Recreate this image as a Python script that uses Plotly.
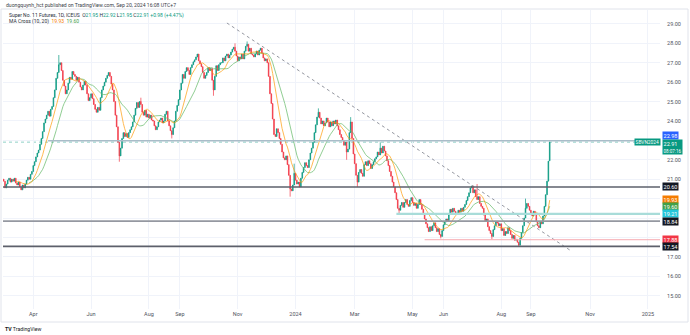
import pandas as pd
import plotly.graph_objects as go

# ---------------- data (daily closes, Super No. 11 Futures, 1D) ----------------
closes = [
    20.90, 20.55,
    20.75, 20.95, 21.05, 20.85, 21.00,
    20.90, 21.05, 20.80, 20.70, 20.85,
    20.60, 20.45, 20.70, 20.55, 20.75,
    20.95, 21.10, 21.00, 21.25, 21.40,
    21.70, 21.90, 22.15, 22.35, 22.50,
    22.80, 23.10, 23.45, 23.90, 24.10,
    24.30, 24.50, 24.25, 24.60, 24.75,
    25.20, 25.60, 26.20, 26.50, 26.90,
    27.00, 26.60, 26.10, 25.80, 25.40,
    25.60, 25.95, 26.25, 26.15, 26.55,
    26.40, 26.30, 26.10, 26.25, 26.00,
    25.75, 25.60, 25.85, 26.05, 25.85,
    25.40, 25.05, 25.20, 25.40, 25.15,
    24.85, 24.60, 24.45, 24.70, 24.55,
    25.20, 25.60, 25.80, 26.00, 26.20,
    26.35, 26.50, 26.30, 25.90, 25.60,
    25.00, 24.30, 23.70, 22.90, 22.20,
    22.60, 23.10, 23.40, 23.20, 23.35,
    23.15, 23.40, 23.55, 23.70, 23.95,
    24.30, 24.65, 24.95, 24.70, 25.00,
    24.85, 24.45, 24.30, 24.55, 24.20,
    24.35, 24.15, 24.30, 24.05, 24.00,
    23.75, 23.55, 23.70, 23.95, 24.05,
    24.15, 23.90, 24.00, 24.35, 24.50,
    24.00, 23.75, 23.50, 23.30, 23.65,
    24.00, 24.50, 24.80, 25.10, 25.60,
    25.95, 26.40, 26.20, 26.55, 26.75,
    26.60, 26.40, 26.75, 26.90, 27.05,
    27.15, 27.30, 27.45, 27.10, 26.95,
    26.80, 26.50, 26.20, 26.35, 26.50,
    26.75, 26.60, 26.70, 26.10, 25.60,
    26.30, 26.85, 26.60, 26.90, 27.00,
    27.00, 27.25, 27.10, 27.35, 27.45,
    27.25, 27.40, 27.55, 27.70, 27.80,
    27.60, 27.35, 27.10, 27.30, 27.20,
    27.45, 27.20, 27.60, 27.85, 27.95,
    27.60, 27.75, 27.45, 27.40, 27.30,
    27.45, 27.60, 27.40, 27.65, 27.75,
    27.50, 27.25, 27.10, 27.20, 27.00,
    26.30, 25.40, 24.90, 24.10, 23.30,
    23.20, 23.60, 23.40, 23.10, 22.80,
    22.40, 22.10, 22.00, 22.20, 21.75,
    21.20, 20.50, 20.40, 20.70, 21.30,
    20.95, 20.75, 20.85, 20.60, 21.05,
    21.35, 21.60, 21.85, 21.70, 21.60,
    22.00, 22.35, 22.60, 22.90, 23.40,
    23.80, 24.20, 24.45, 24.15, 23.85,
    24.00, 23.75, 23.90, 24.15, 23.95,
    23.70, 23.95, 23.75, 24.00, 23.85,
    24.05, 23.75, 23.55, 23.30, 23.15,
    23.00, 22.75, 22.90, 22.40, 22.55,
    23.40, 23.95, 23.10, 22.30, 21.80,
    21.20, 20.85, 21.35, 21.50, 21.30,
    21.15, 21.75, 21.90, 21.70, 21.95,
    21.80, 21.55, 21.75, 21.90, 22.05,
    22.15, 22.40, 22.25, 22.60, 22.35,
    22.70, 22.45, 22.20, 21.95, 21.70,
    21.40, 21.15, 20.85, 20.60, 20.30,
    19.95, 19.50, 19.40, 19.65, 19.80,
    19.55, 19.80, 19.95, 19.70, 19.60,
    19.90, 20.05, 19.80, 19.65, 19.75,
    19.50, 19.70, 19.95, 19.70, 19.45,
    19.20, 18.95, 18.70, 18.50, 18.30,
    18.55, 18.35, 18.60, 18.75, 18.50,
    18.30, 18.45, 18.15, 18.05, 18.35,
    18.65, 18.80, 18.95, 18.85, 19.20,
    19.45, 19.30, 19.50, 19.35, 19.20,
    19.25, 19.40, 19.30, 19.50, 19.35,
    19.55, 19.70, 19.90, 20.10, 20.30,
    20.55, 20.65, 20.30, 20.45, 20.10,
    19.95, 20.10, 19.75, 19.60, 19.50,
    19.15, 18.85, 18.95, 18.55, 18.35,
    18.20, 18.05, 18.40, 18.60, 18.80,
    18.75, 18.60, 18.70, 18.35, 18.45,
    18.10, 18.30, 18.20, 18.50, 18.35,
    18.15, 17.95, 18.10, 17.85, 17.90,
    17.75, 17.60, 17.95, 18.25, 18.60,
    19.00, 19.50, 19.75, 19.60, 19.40,
    19.25, 19.10, 19.35, 19.20, 18.80,
    18.60, 18.50, 18.80, 18.70, 19.10,
    19.60, 20.20, 20.90, 21.93, 22.91,
]
first_open = 21.00
last_open = 21.95
last_date = "2024-09-20"

wick_highs = {
    "2023-04-28": 27.40, "2023-07-24": 25.20, "2023-10-30": 28.00,
    "2023-11-10": 28.10, "2023-12-29": 21.80, "2024-01-24": 24.65,
    "2024-02-27": 24.20, "2024-03-28": 22.90, "2024-07-08": 20.75,
    "2024-08-27": 20.00, "2024-09-20": 22.92,
}
wick_lows = {
    "2023-06-30": 21.90, "2023-08-24": 23.10, "2023-10-06": 25.30,
    "2023-12-26": 20.10, "2024-02-22": 22.00, "2024-03-05": 20.60,
    "2024-04-17": 19.25, "2024-05-30": 17.95, "2024-07-23": 17.90,
    "2024-08-20": 17.54, "2024-09-20": 21.95,
}

# drawn levels
full_levels = [20.60, 18.84, 17.54]
full_level_colors = ["#5d606b", "#9598a1", "#5d606b"]
ray_levels = [22.98, 19.21, 17.88]
ray_starts = ["2023-04-18", "2024-04-15", "2024-05-14"]
ray_colors = ["#a9bcc8", "#a8dcd9", "#f7a9b0"]
ray_widths = [1.6, 2.2, 1.0]
trend_dates = ["2023-10-20", "2024-10-14"]
trend_prices = [29.05, 17.30]
last_price = 22.91

# price-axis labels (text, value, background)
axis_labels = [
    ("20.60", 20.60, "#131722"), ("19.93", 19.93, "#f57c00"),
    ("19.60", 19.60, "#43a047"), ("19.21", 19.21, "#26c6da"),
    ("18.84", 18.84, "#131722"), ("17.88", 17.88, "#f23645"),
    ("17.54", 17.54, "#131722"),
]

y_ticks = list(range(15, 30))
hidden_ticks = [18, 19, 20, 23]
x_tickvals = ["2023-04-03", "2023-06-01", "2023-08-01", "2023-09-01", "2023-11-01",
              "2024-01-01", "2024-03-01", "2024-05-01", "2024-06-03", "2024-08-01",
              "2024-09-02", "2024-11-01", "2025-01-01"]
x_ticktext = ["Apr", "Jun", "Aug", "Sep", "Nov", "2024", "Mar", "May", "Jun", "Aug",
              "Sep", "Nov", "2025"]

# ---------------- build ----------------
dates = pd.bdate_range(end=last_date, periods=len(closes))
opens = [first_open] + closes[:-1]
opens[-1] = last_open
highs = [max(o, c) for o, c in zip(opens, closes)]
lows = [min(o, c) for o, c in zip(opens, closes)]
for d, v in wick_highs.items():
    i = dates.get_loc(pd.Timestamp(d))
    highs[i] = max(highs[i], v)
for d, v in wick_lows.items():
    i = dates.get_loc(pd.Timestamp(d))
    lows[i] = min(lows[i], v)

s = pd.Series(closes)
ma10 = s.rolling(10).mean()
ma20 = s.rolling(20).mean()

UP, DOWN = "#089981", "#f23645"
FONT = "Roboto"

fig = go.Figure()
fig.add_trace(go.Candlestick(
    x=dates, open=opens, high=highs, low=lows, close=closes,
    increasing=dict(line=dict(color=UP, width=0.7), fillcolor=UP),
    decreasing=dict(line=dict(color=DOWN, width=0.7), fillcolor=DOWN),
    whiskerwidth=0, showlegend=False, hoverinfo="skip"))
fig.add_trace(go.Scatter(x=dates, y=ma20, mode="lines",
                         line=dict(color="#66bb6a", width=0.9), opacity=0.8,
                         showlegend=False, hoverinfo="skip"))
fig.add_trace(go.Scatter(x=dates, y=ma10, mode="lines",
                         line=dict(color="#ff9800", width=0.9), opacity=0.75,
                         showlegend=False, hoverinfo="skip"))
fig.add_trace(go.Scatter(x=trend_dates, y=trend_prices, mode="lines",
                         line=dict(color="#9598a1", width=1, dash="dot"),
                         showlegend=False, hoverinfo="skip"))

X_END = "2025-01-14"
shapes = []
for p, c in zip(full_levels, full_level_colors):
    shapes.append(dict(type="line", xref="paper", x0=0, x1=1, yref="y", y0=p, y1=p,
                       line=dict(color=c, width=1.6), layer="above"))
for p, st, c, w in zip(ray_levels, ray_starts, ray_colors, ray_widths):
    shapes.append(dict(type="line", xref="x", x0=st, x1=X_END, yref="y", y0=p, y1=p,
                       line=dict(color=c, width=w), layer="above"))
shapes.append(dict(type="line", xref="paper", x0=0, x1=1, yref="y", y0=last_price,
                   y1=last_price, line=dict(color="#8fd0c6", width=1, dash="dot"),
                   layer="below"))
# outer frame
shapes.append(dict(type="rect", xref="paper", yref="paper",
                   x0=-2 / 657, x1=(688 - 3) / 657, y0=(309 - 322) / 299, y1=1 + 1 / 299,
                   line=dict(color="#e0e3eb", width=1)))

ann = []
for txt, p, col in axis_labels:
    ann.append(dict(xref="paper", x=1, xanchor="left", xshift=2, yref="y", y=p,
                    yanchor="middle", text=txt, showarrow=False, bgcolor=col,
                    font=dict(family=FONT, size=5.5, color="white"), borderpad=0.6))
ann.append(dict(xref="paper", x=1, xanchor="left", xshift=2, yref="y", y=22.98,
                yanchor="middle", yshift=5, text="22.98", showarrow=False,
                bgcolor="#2962ff", font=dict(family=FONT, size=5.5, color="white"),
                borderpad=0.6))
ann.append(dict(xref="paper", x=1, xanchor="left", xshift=2, yref="y", y=last_price,
                yanchor="top", yshift=3, text="22.91<br><span style='font-size:4.5px'>08:07:16</span>",
                showarrow=False, bgcolor=UP, align="left",
                font=dict(family=FONT, size=5.5, color="white"), borderpad=0.6))
ann.append(dict(xref="paper", x=1, xanchor="right", xshift=1, yref="y", y=last_price,
                yanchor="middle", yshift=0.5, text="SBVN2024", showarrow=False, bgcolor=UP,
                font=dict(family=FONT, size=4.8, color="white"), borderpad=0.6))


def txt(px, py, text, size=5.2, color="#2a2e39"):
    ann.append(dict(xref="paper", x=0, xshift=px - 3, yref="paper", y=1, yshift=10 - py,
                    xanchor="left", yanchor="middle", text=text, showarrow=False,
                    font=dict(family=FONT, size=size, color=color)))


G = "#089981"
txt(4, 5, "duongquynh_hct published on TradingView.com, Sep 20, 2024 16:08 UTC+7",
    size=5.1, color="#3a3e48")
txt(7, 15, "Super No. 11 Futures, 1D, ICEUS  "
    f"O<span style='color:{G}'>21.95</span> H<span style='color:{G}'>22.92</span> "
    f"L<span style='color:{G}'>21.95</span> C<span style='color:{G}'>22.91</span> "
    f"<span style='color:{G}'>+0.98 (+4.47%)</span>", size=5.0)
txt(7, 21.5, "MA Cross (10, 20)  <span style='color:#f57c00'>19.93</span>  "
    "<span style='color:#43a047'>19.60</span>", size=5.0)
txt(3, 329, "<b>TV</b> TradingView", size=5.2, color="#131722")

fig.update_layout(
    width=690, height=335, margin=dict(l=3, r=30, t=10, b=26),
    paper_bgcolor="white", plot_bgcolor="white",
    shapes=shapes, annotations=ann,
    font=dict(family=FONT),
    xaxis=dict(type="date", range=["2023-03-01 12:00", X_END],
               rangebreaks=[dict(bounds=["sat", "mon"])],
               rangeslider=dict(visible=False),
               tickvals=x_tickvals, ticktext=x_ticktext,
               tickfont=dict(size=5.5, color="#50535e"),
               showgrid=True, gridcolor="#f0f3fa", gridwidth=1,
               zeroline=False, showline=False, ticks="", fixedrange=True),
    yaxis=dict(side="right", range=[14.31, 29.72], tickvals=y_ticks,
               ticktext=["" if t in hidden_ticks else f"{t:.2f}" for t in y_ticks],
               tickfont=dict(size=5.5, color="#50535e"),
               showgrid=True, gridcolor="#f0f3fa", gridwidth=1,
               zeroline=False, showline=False, ticks="outside", ticklen=5,
               tickcolor="rgba(0,0,0,0)"),
)

fig.write_html("out.html")
